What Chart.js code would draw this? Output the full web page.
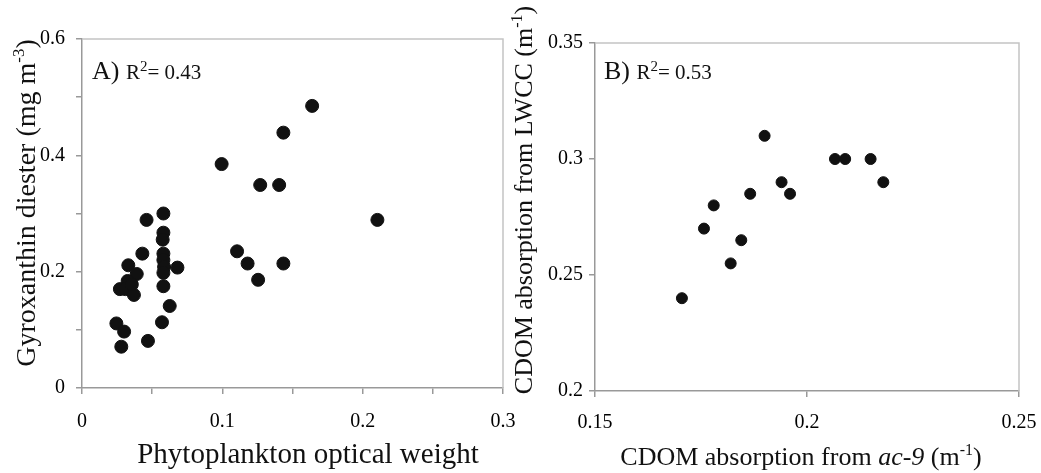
<!DOCTYPE html>
<html>
<head>
<meta charset="utf-8">
<script src="https://cdn.jsdelivr.net/npm/chart.js@4.4.1/dist/chart.umd.min.js"></script>
<style>
  body { margin: 0; background: #fff; }
  #a { position: absolute; left: 0; top: 0; }
  #b { position: absolute; left: 510px; top: 0; }
</style>
</head>
<body>
<canvas id="a" width="520" height="473"></canvas>
<canvas id="b" width="531" height="473"></canvas>
<script>
// panel A: phytoplankton optical weight vs gyroxanthin diester
var weightA = [0.164, 0.1435, 0.0995, 0.127, 0.1405, 0.2105, 0.1105, 0.118, 0.1435, 0.1255,
  0.058, 0.046, 0.058, 0.0575, 0.043, 0.058, 0.058, 0.0585, 0.058, 0.068,
  0.033, 0.039, 0.0325, 0.027, 0.031, 0.037, 0.058, 0.0625, 0.057, 0.0245,
  0.030, 0.047, 0.028, 0.0355];
var gyroA = [0.485, 0.439, 0.385, 0.349, 0.349, 0.289, 0.235, 0.214, 0.214, 0.186,
  0.300, 0.289, 0.267, 0.255, 0.231, 0.231, 0.220, 0.208, 0.198, 0.207,
  0.211, 0.196, 0.184, 0.170, 0.170, 0.160, 0.175, 0.141, 0.113, 0.111,
  0.097, 0.081, 0.071, 0.178];

// panel B: CDOM from ac-9 vs CDOM from LWCC
var ac9B = [0.1705, 0.1757, 0.178, 0.182, 0.1845, 0.1866, 0.190, 0.194, 0.196, 0.2066, 0.209, 0.215, 0.218];
var lwccB = [0.240, 0.270, 0.280, 0.255, 0.265, 0.285, 0.310, 0.290, 0.285, 0.300, 0.300, 0.300, 0.290];

var SERIF = '"Liberation Serif", "Times New Roman", serif';

function zip(xs, ys) {
  return xs.map(function (x, i) { return { x: x, y: ys[i] }; });
}

function fmt(v) {
  return String(+v.toFixed(3));
}

// draw a line of text made of pieces (for superscripts / italics)
function rich(ctx, parts, x, y, align, rot) {
  ctx.save();
  ctx.translate(x, y);
  if (rot) ctx.rotate(-Math.PI / 2);
  ctx.textBaseline = 'alphabetic';
  ctx.textAlign = 'left';
  ctx.fillStyle = '#111';
  var w = 0;
  parts.forEach(function (p) {
    ctx.font = (p.it ? 'italic ' : '') + p.s + 'px ' + SERIF;
    p.w = ctx.measureText(p.t).width;
    w += p.w;
  });
  var cx = align === 'center' ? -w / 2 : 0;
  parts.forEach(function (p) {
    ctx.font = (p.it ? 'italic ' : '') + p.s + 'px ' + SERIF;
    ctx.fillText(p.t, cx, -(p.up || 0));
    cx += p.w;
  });
  ctx.restore();
}

function frame(chart) {
  var ctx = chart.ctx, a = chart.chartArea;
  ctx.save();
  ctx.lineWidth = 1.5;
  ctx.strokeStyle = '#c4c4c4';
  ctx.beginPath();
  ctx.moveTo(a.left, a.top);
  ctx.lineTo(a.right, a.top);
  ctx.lineTo(a.right, a.bottom);
  ctx.stroke();
  ctx.restore();
}

function axisCfg(min, max, step, show, pad) {
  return {
    type: 'linear',
    min: min,
    max: max,
    grid: { drawOnChartArea: false, drawTicks: true, tickLength: 6, color: '#999', lineWidth: 1.5 },
    border: { display: true, color: '#999', width: 1.5 },
    ticks: {
      stepSize: step,
      autoSkip: false,
      maxRotation: 0,
      padding: pad,
      color: '#000',
      font: { family: SERIF, size: 20 },
      callback: function (v) { return show(v) ? fmt(v) : ''; }
    }
  };
}

// fixed axis sizes, no extra room for the edge labels
function fixSize(w, h) {
  return function (scale) {
    if (w) scale.width = w;
    if (h) scale.height = h;
    scale.paddingLeft = 0;
    scale.paddingRight = 0;
    scale.paddingTop = 0;
    scale.paddingBottom = 0;
  };
}

var multiple = function (m) {
  return function (v) { return Math.abs(v / m - Math.round(v / m)) < 1e-6; };
};

// ---- chart A ----
var xA = axisCfg(0, 0.3, 0.05, multiple(0.1), 16);
xA.afterFit = fixSize(0, 85);
var yA = axisCfg(0, 0.6, 0.1, multiple(0.2), 11);
yA.afterFit = fixSize(82, 0);

new Chart(document.getElementById('a'), {
  type: 'scatter',
  data: {
    datasets: [{
      data: zip(weightA, gyroA),
      backgroundColor: '#111',
      borderColor: '#111',
      pointRadius: 6.5,
      pointHoverRadius: 6.5
    }]
  },
  options: {
    responsive: false,
    animation: false,
    layout: { padding: { left: 0, top: 39, right: 17, bottom: 0 } },
    plugins: { legend: { display: false }, tooltip: { enabled: false } },
    scales: { x: xA, y: yA }
  },
  plugins: [{
    id: 'textA',
    beforeDatasetsDraw: frame,
    afterDraw: function (chart) {
      var ctx = chart.ctx;
      rich(ctx, [{ t: 'Phytoplankton optical weight', s: 29 }], 308, 463, 'center');
      rich(ctx, [{ t: 'Gyroxanthin diester (mg m', s: 28 }, { t: '-3', s: 17, up: 11 }, { t: ')', s: 28 }], 35, 203, 'center', true);
      rich(ctx, [{ t: 'A) ', s: 26 }, { t: 'R', s: 21 }, { t: '2', s: 15, up: 8 }, { t: '= 0.43', s: 21 }], 92, 79, 'left');
    }
  }]
});

// ---- chart B ----
var xB = axisCfg(0.15, 0.25, 0.05, function () { return true; }, 14);
xB.afterFit = fixSize(0, 82);
var yB = axisCfg(0.2, 0.35, 0.05, function () { return true; }, 6);
yB.afterFit = fixSize(85, 0);

new Chart(document.getElementById('b'), {
  type: 'scatter',
  data: {
    datasets: [{
      data: zip(ac9B, lwccB),
      backgroundColor: '#111',
      borderColor: '#111',
      pointRadius: 5.5,
      pointHoverRadius: 5.5
    }]
  },
  options: {
    responsive: false,
    animation: false,
    layout: { padding: { left: 0, top: 43, right: 22, bottom: 0 } },
    plugins: { legend: { display: false }, tooltip: { enabled: false } },
    scales: { x: xB, y: yB }
  },
  plugins: [{
    id: 'textB',
    beforeDatasetsDraw: frame,
    afterDraw: function (chart) {
      var ctx = chart.ctx;
      rich(ctx, [{ t: 'CDOM absorption from ', s: 26 }, { t: 'ac-9', s: 26, it: true }, { t: ' (m', s: 26 }, { t: '-1', s: 16, up: 10 }, { t: ')', s: 26 }], 291, 465, 'center');
      rich(ctx, [{ t: 'CDOM absorption from LWCC (m', s: 26 }, { t: '-1', s: 16, up: 10 }, { t: ')', s: 26 }], 22, 200, 'center', true);
      rich(ctx, [{ t: 'B) ', s: 26 }, { t: 'R', s: 21 }, { t: '2', s: 15, up: 8 }, { t: '= 0.53', s: 21 }], 94, 79, 'left');
    }
  }]
});
</script>
</body>
</html>
